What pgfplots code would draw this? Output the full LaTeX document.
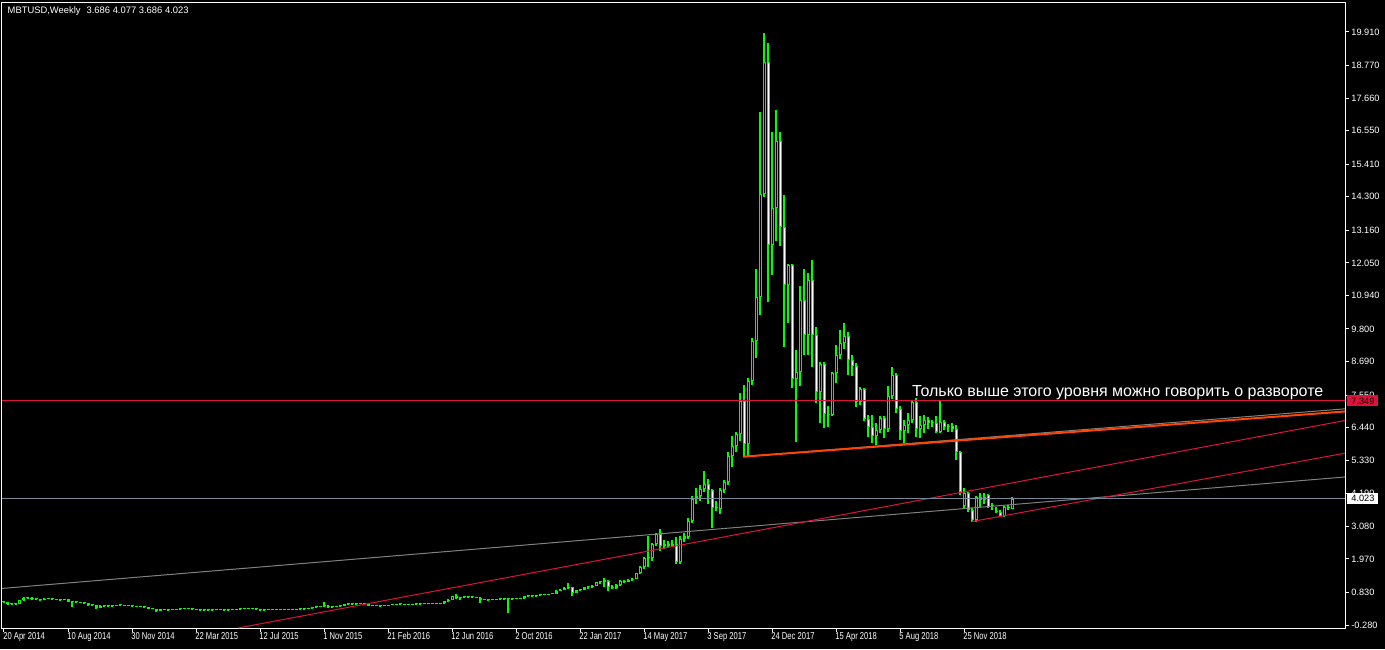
\documentclass[border=0pt]{standalone}
\usepackage{pgfplots}
\pgfplotsset{compat=1.18}
\usepackage{pgfplotstable}
\usepackage{fontspec}
\setmainfont{Liberation Sans}
\newfontfamily\narrowfont[FakeStretch=0.76]{Liberation Sans}

\definecolor{mtgreen}{RGB}{0,255,0}
\definecolor{mtred}{RGB}{220,20,60}
\definecolor{mtorange}{RGB}{255,69,0}
\definecolor{mtslate}{RGB}{119,136,153}
\definecolor{mtgray}{RGB}{128,128,128}

% weekly candles, x = week index from 20 Apr 2014, prices in thousands
\pgfplotstableread{
i o h l c
0 0.50 0.53 0.46 0.49
1 0.49 0.51 0.40 0.44
2 0.44 0.47 0.40 0.43
3 0.43 0.46 0.41 0.44
4 0.44 0.58 0.42 0.57
5 0.57 0.66 0.55 0.63
6 0.63 0.67 0.60 0.64
7 0.64 0.66 0.56 0.59
8 0.59 0.63 0.57 0.60
9 0.60 0.62 0.55 0.57
10 0.57 0.64 0.56 0.62
11 0.62 0.64 0.59 0.61
12 0.61 0.63 0.58 0.60
13 0.60 0.62 0.56 0.58
14 0.58 0.60 0.55 0.57
15 0.57 0.61 0.56 0.59
16 0.59 0.61 0.49 0.51
17 0.51 0.53 0.33 0.50
18 0.50 0.53 0.47 0.49
19 0.49 0.51 0.46 0.48
20 0.48 0.50 0.45 0.47
21 0.47 0.48 0.38 0.40
22 0.40 0.43 0.37 0.39
23 0.39 0.41 0.28 0.31
24 0.31 0.39 0.29 0.37
25 0.37 0.41 0.35 0.38
26 0.38 0.39 0.34 0.36
27 0.36 0.38 0.34 0.37
28 0.37 0.40 0.36 0.39
29 0.39 0.42 0.37 0.40
30 0.40 0.41 0.37 0.38
31 0.38 0.39 0.36 0.37
32 0.37 0.38 0.35 0.36
33 0.36 0.37 0.34 0.35
34 0.35 0.36 0.32 0.33
35 0.33 0.35 0.31 0.32
36 0.32 0.33 0.26 0.27
37 0.27 0.29 0.25 0.27
38 0.27 0.28 0.16 0.20
39 0.20 0.26 0.19 0.25
40 0.25 0.26 0.22 0.23
41 0.23 0.25 0.21 0.23
42 0.23 0.25 0.22 0.24
43 0.24 0.26 0.23 0.25
44 0.25 0.28 0.24 0.27
45 0.27 0.30 0.26 0.28
46 0.28 0.29 0.25 0.26
47 0.26 0.27 0.24 0.25
48 0.25 0.26 0.22 0.23
49 0.23 0.24 0.22 0.23
50 0.23 0.24 0.21 0.22
51 0.22 0.24 0.21 0.23
52 0.23 0.24 0.22 0.23
53 0.23 0.25 0.22 0.24
54 0.24 0.25 0.22 0.23
55 0.23 0.24 0.22 0.23
56 0.23 0.24 0.22 0.23
57 0.23 0.25 0.22 0.24
58 0.24 0.26 0.23 0.25
59 0.25 0.28 0.24 0.27
60 0.27 0.29 0.26 0.28
61 0.28 0.30 0.27 0.28
62 0.28 0.29 0.26 0.27
63 0.27 0.28 0.25 0.26
64 0.26 0.27 0.19 0.23
65 0.23 0.24 0.22 0.23
66 0.23 0.25 0.22 0.24
67 0.24 0.25 0.23 0.24
68 0.24 0.25 0.22 0.23
69 0.23 0.25 0.22 0.24
70 0.24 0.25 0.23 0.24
71 0.24 0.25 0.22 0.23
72 0.23 0.25 0.22 0.24
73 0.24 0.26 0.23 0.25
74 0.25 0.27 0.24 0.26
75 0.26 0.28 0.25 0.27
76 0.27 0.30 0.26 0.29
77 0.29 0.33 0.28 0.32
78 0.32 0.34 0.30 0.33
79 0.33 0.37 0.32 0.36
80 0.36 0.49 0.33 0.38
81 0.38 0.40 0.31 0.33
82 0.33 0.35 0.31 0.33
83 0.33 0.37 0.32 0.36
84 0.36 0.39 0.35 0.38
85 0.38 0.43 0.37 0.42
86 0.42 0.46 0.41 0.44
87 0.44 0.46 0.41 0.43
88 0.43 0.45 0.41 0.43
89 0.43 0.47 0.42 0.45
90 0.45 0.46 0.42 0.43
91 0.43 0.44 0.36 0.38
92 0.38 0.40 0.36 0.38
93 0.38 0.40 0.36 0.38
94 0.38 0.39 0.35 0.37
95 0.37 0.39 0.36 0.38
96 0.38 0.41 0.37 0.40
97 0.40 0.42 0.39 0.41
98 0.41 0.44 0.40 0.43
99 0.43 0.44 0.41 0.42
100 0.42 0.43 0.40 0.41
101 0.41 0.42 0.40 0.41
102 0.41 0.43 0.40 0.42
103 0.42 0.43 0.41 0.42
104 0.42 0.44 0.41 0.43
105 0.43 0.46 0.42 0.45
106 0.45 0.46 0.43 0.44
107 0.44 0.46 0.43 0.45
108 0.45 0.46 0.44 0.45
109 0.45 0.47 0.44 0.46
110 0.46 0.54 0.45 0.53
111 0.53 0.59 0.52 0.58
112 0.58 0.72 0.57 0.70
113 0.70 0.78 0.60 0.63
114 0.63 0.68 0.58 0.66
115 0.66 0.69 0.64 0.67
116 0.67 0.68 0.64 0.66
117 0.66 0.68 0.64 0.66
118 0.66 0.67 0.63 0.65
119 0.65 0.66 0.46 0.58
120 0.58 0.60 0.56 0.58
121 0.58 0.59 0.55 0.57
122 0.57 0.59 0.56 0.58
123 0.58 0.61 0.57 0.60
124 0.60 0.61 0.58 0.60
125 0.60 0.62 0.59 0.61
126 0.61 0.62 0.13 0.60
127 0.60 0.62 0.59 0.61
128 0.61 0.63 0.60 0.62
129 0.62 0.64 0.61 0.63
130 0.63 0.72 0.62 0.70
131 0.70 0.72 0.68 0.70
132 0.70 0.72 0.68 0.70
133 0.70 0.74 0.69 0.73
134 0.73 0.75 0.72 0.74
135 0.74 0.76 0.73 0.75
136 0.75 0.78 0.74 0.77
137 0.77 0.80 0.76 0.79
138 0.79 0.90 0.78 0.89
139 0.89 0.94 0.87 0.92
140 0.92 1.00 0.90 0.97
141 0.97 1.16 0.95 1.00
142 1.00 1.02 0.72 0.82
143 0.82 0.92 0.80 0.90
144 0.90 0.94 0.88 0.92
145 0.92 1.03 0.91 1.01
146 1.01 1.03 0.96 1.00
147 1.00 1.07 0.98 1.05
148 1.05 1.20 1.04 1.19
149 1.19 1.22 1.12 1.18
150 1.18 1.31 1.02 1.26
151 1.22 1.25 0.89 1.03
152 1.03 1.09 0.94 0.97
153 0.97 1.10 0.95 1.07
154 1.07 1.24 1.05 1.21
155 1.21 1.24 1.16 1.19
156 1.19 1.27 1.17 1.25
157 1.25 1.33 1.23 1.30
158 1.30 1.50 1.27 1.48
159 1.48 1.72 1.45 1.68
160 1.68 2.02 1.64 1.99
161 1.99 2.75 1.68 2.01
162 2.01 2.50 1.90 2.48
163 2.48 2.86 2.40 2.82
164 2.82 2.98 2.25 2.41
165 2.41 2.62 2.30 2.48
166 2.48 2.58 2.35 2.40
167 2.40 2.60 2.37 2.47
168 2.47 2.70 1.80 1.85
169 1.85 2.75 1.80 2.65
170 2.65 2.85 2.55 2.75
171 2.72 3.35 2.65 3.26
172 3.26 4.10 3.20 4.00
173 4.00 4.40 3.85 4.10
174 4.10 4.50 3.95 4.34
175 4.34 4.96 4.26 4.52
176 4.52 4.70 3.85 4.30
177 4.30 4.35 3.02 3.69
178 3.69 3.95 3.60 3.72
179 3.68 4.40 3.50 4.33
180 4.33 4.65 4.20 4.59
181 4.59 5.60 4.50 5.49
182 5.49 6.17 5.10 5.83
183 5.83 6.30 5.60 6.21
184 6.21 7.61 6.00 7.35
185 7.35 7.89 5.45 5.87
186 5.87 8.12 5.45 8.03
187 8.03 9.50 7.90 9.39
188 9.39 11.84 8.80 10.88
189 10.88 17.18 10.28 14.39
190 14.39 19.87 14.30 18.88
191 18.88 19.53 10.70 12.65
192 12.65 16.50 11.64 13.91
193 13.91 17.26 12.80 16.20
194 16.20 16.50 12.64 13.28
195 13.28 14.36 9.20 11.28
196 11.28 12.00 10.00 11.96
197 11.96 12.00 7.80 8.09
198 8.09 9.09 5.96 8.33
199 8.33 11.26 7.84 10.79
200 10.79 11.83 8.90 9.60
201 9.60 11.70 8.90 11.47
202 11.47 12.15 8.52 9.60
203 9.60 9.88 7.27 7.64
204 7.64 8.69 6.59 8.61
205 8.61 8.69 6.42 6.90
206 6.90 7.16 6.47 6.87
207 6.87 8.35 6.85 8.29
208 8.29 9.26 7.95 8.92
209 8.92 9.77 8.77 9.31
210 9.31 9.99 9.10 9.56
211 9.56 9.71 8.24 8.74
212 8.74 8.90 8.20 8.55
213 8.55 8.63 7.15 7.30
214 7.30 7.82 7.20 7.75
215 7.75 7.78 6.65 6.72
216 6.72 6.87 6.13 6.47
217 6.47 6.87 5.90 6.17
218 6.17 6.59 5.85 6.36
219 6.36 6.82 6.25 6.76
220 6.76 6.85 6.10 6.38
221 6.38 7.84 6.30 7.50
222 7.50 8.50 7.40 8.23
223 8.23 8.29 6.93 7.07
224 7.07 7.16 6.03 6.34
225 6.34 6.70 5.90 6.53
226 6.53 6.93 6.25 6.70
227 6.70 7.38 6.60 7.30
228 7.30 7.44 6.13 6.38
229 6.38 6.82 6.08 6.53
230 6.53 6.87 6.25 6.70
231 6.70 6.80 6.40 6.59
232 6.59 6.70 6.45 6.60
233 6.60 6.82 6.25 6.30
234 6.30 7.33 6.25 6.62
235 6.62 6.70 6.35 6.47
236 6.47 6.55 6.30 6.50
237 6.50 6.60 6.30 6.38
238 6.38 6.53 5.34 5.62
239 5.62 5.65 4.15 4.26
240 3.77 4.37 3.69 4.23
241 4.23 4.26 3.58 3.64
242 3.64 3.70 3.24 3.30
243 3.30 4.12 3.24 4.07
244 4.07 4.20 3.70 3.98
245 3.98 4.20 3.85 4.09
246 4.15 4.18 3.70 3.75
247 3.82 3.86 3.64 3.77
248 3.60 3.75 3.52 3.58
249 3.58 3.62 3.41 3.44
250 3.44 3.78 3.40 3.73
251 3.73 3.80 3.64 3.69
252 3.686 4.077 3.686 4.023
}\candles

\begin{document}
\begin{tikzpicture}
% whole chart window; the plot area's lower left corner is at the origin
\fill[black] (-1pt,-10.5pt) rectangle (691.5pt,314pt);
\begin{axis}[
  anchor=south west,
  scale only axis, width=671.5pt, height=313pt,
  xmin=-0.5, xmax=335.25, ymin=-0.382, ymax=20.93,
  clip mode=individual,
  axis line style={white, line width=0.5pt},
  tick style={white, line width=0.5pt},
  tick align=outside, major tick length=2pt,
  xtick pos=bottom, ytick pos=right,
  xtick={0,16,...,240},
  xticklabels={20 Apr 2014, 10 Aug 2014, 30 Nov 2014, 22 Mar 2015, 12 Jul 2015, 1 Nov 2015, 21 Feb 2016, 12 Jun 2016, 2 Oct 2016, 22 Jan 2017, 14 May 2017, 3 Sep 2017, 24 Dec 2017, 15 Apr 2018, 5 Aug 2018, 25 Nov 2018},
  ytick={19.91,18.77,17.66,16.55,15.41,14.3,13.16,12.05,10.94,9.8,8.69,7.55,6.44,5.33,4.19,3.08,1.97,0.83,-0.28},
  yticklabels={19.910,18.770,17.660,16.550,15.410,14.300,13.160,12.050,10.940,9.800,8.690,7.550,6.440,5.330,4.190,3.080,1.970,0.830,-0.280},
  xticklabel style={text=white, font=\narrowfont\fontsize{5pt}{6pt}\selectfont, anchor=north west, inner sep=0pt, xshift=-0.5pt},
  yticklabel style={text=white, font=\fontsize{4.6pt}{5pt}\selectfont, anchor=west, inner sep=0pt, xshift=1pt},
]
% wicks
\addplot[draw=none, mark=none, forget plot, error bars/.cd, y dir=plus, y explicit, error mark=none,
  error bar style={draw=mtgreen, line width=0.6pt}]
  table[x=i, y=l, y error plus expr=\thisrow{h}-\thisrow{l}] {\candles};
% bodies
\addplot[draw=none, mark=none, forget plot, error bars/.cd, y dir=plus, y explicit, error mark=none,
  error bar style={draw=mtgreen, line width=1.5pt}]
  table[x=i, y expr={min(\thisrow{o},\thisrow{c})}, y error plus expr={max(abs(\thisrow{c}-\thisrow{o}),0.034)}] {\candles};
% bull bodies hollow (black inside)
\addplot[draw=none, mark=none, forget plot, error bars/.cd, y dir=plus, y explicit, error mark=none,
  error bar style={draw=black, line width=0.5pt}]
  table[x=i, y expr={\thisrow{c}-\thisrow{o}>0.1 ? \thisrow{o}+0.034 : nan}, y error plus expr={\thisrow{c}-\thisrow{o}-0.068}] {\candles};
% bear bodies filled white
\addplot[draw=none, mark=none, forget plot, error bars/.cd, y dir=plus, y explicit, error mark=none,
  error bar style={draw=white, line width=0.5pt}]
  table[x=i, y expr={\thisrow{o}-\thisrow{c}>0.1 ? \thisrow{c}+0.034 : nan}, y error plus expr={\thisrow{o}-\thisrow{c}-0.068}] {\candles};

% trend lines and levels
\addplot[mtgray, line width=0.5pt] coordinates {(-0.5,0.965) (335.25,4.76)};
\addplot[mtred, line width=0.5pt] coordinates {(58.5,-0.382) (335.25,6.683)};
\addplot[mtred, line width=0.5pt] coordinates {(241.9,3.24) (335.25,5.57)};
\addplot[mtgray, line width=0.5pt] coordinates {(184.75,5.45) (335.25,7.08)};
\addplot[mtorange, line width=1pt] coordinates {(184.75,5.45) (335.25,6.99)};
\addplot[mtred, line width=0.5pt] coordinates {(-0.5,7.349) (335.25,7.349)};
\addplot[mtslate, line width=0.5pt] coordinates {(-0.5,4.023) (335.25,4.023)};

\node[anchor=base west, text=white, inner sep=0pt, font=\fontsize{8pt}{9pt}\selectfont]
  at (axis cs:226.9,7.49) {Только выше этого уровня можно говорить о развороте};
\coordinate (lvA) at (axis cs:335.25,7.349);
\coordinate (lvB) at (axis cs:335.25,4.023);
\end{axis}
\node[anchor=west, fill=mtred, text=black, inner sep=0pt, minimum width=15.5pt, minimum height=5.5pt,
  font=\fontsize{4.6pt}{5pt}\selectfont, xshift=1pt] at (lvA) {7.349};
\node[anchor=west, fill=white, text=black, inner sep=0pt, minimum width=15.5pt, minimum height=5.5pt,
  font=\fontsize{4.6pt}{5pt}\selectfont, xshift=1pt] at (lvB) {4.023};
\node[anchor=base west, text=white, inner sep=0pt, font=\fontsize{4.7pt}{5pt}\selectfont]
  at (2.65pt,307.35pt) {MBTUSD,Weekly\hspace{3pt}3.686 4.077 3.686 4.023};
\end{tikzpicture}
\end{document}
